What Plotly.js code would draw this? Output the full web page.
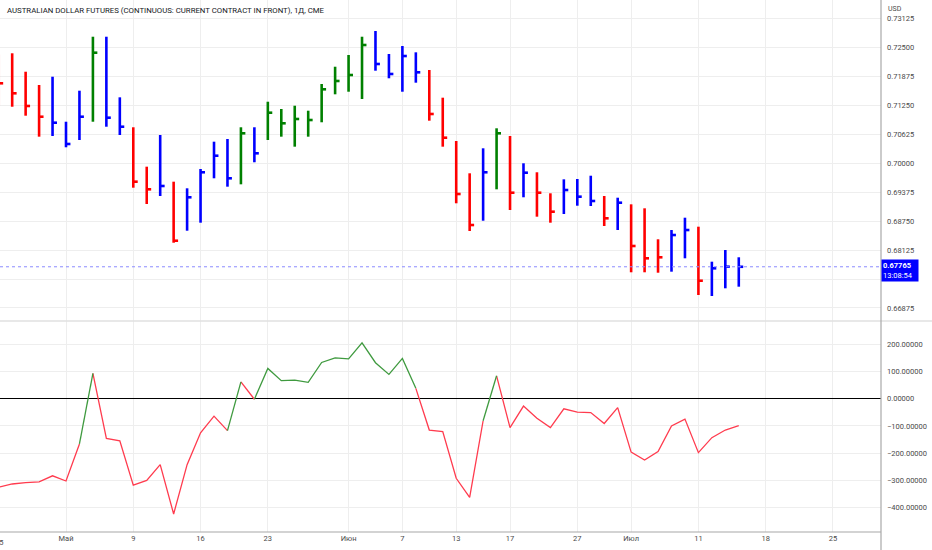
<!DOCTYPE html>
<html>
<head>
<meta charset="utf-8">
<script src="https://cdn.plot.ly/plotly-3.0.1.min.js"></script>
<style>
  html, body { margin: 0; padding: 0; background: #ffffff; }
  #chart { width: 932px; height: 550px; }
</style>
</head>
<body>
<div id="chart"></div>
<script>
//Trading sessions on the time axis (the last ones are still empty)
var sessions = [
  '2022-04-25','2022-04-26','2022-04-27','2022-04-28','2022-04-29',
  '2022-05-02','2022-05-03','2022-05-04','2022-05-05','2022-05-06',
  '2022-05-09','2022-05-10','2022-05-11','2022-05-12','2022-05-13',
  '2022-05-16','2022-05-17','2022-05-18','2022-05-19','2022-05-20',
  '2022-05-23','2022-05-24','2022-05-25','2022-05-26','2022-05-27',
  '2022-05-31','2022-06-01','2022-06-02','2022-06-03',
  '2022-06-06','2022-06-07','2022-06-08','2022-06-09','2022-06-10',
  '2022-06-13','2022-06-14','2022-06-15','2022-06-16','2022-06-17',
  '2022-06-21','2022-06-22','2022-06-23','2022-06-24',
  '2022-06-27','2022-06-28','2022-06-29','2022-06-30','2022-07-01',
  '2022-07-05','2022-07-06','2022-07-07','2022-07-08',
  '2022-07-11','2022-07-12','2022-07-13','2022-07-14','2022-07-15',
  '2022-07-18','2022-07-19','2022-07-20','2022-07-21','2022-07-22',
  '2022-07-25','2022-07-26','2022-07-27','2022-07-28','2022-07-29'
];

//Daily bars (high / low / close), one per session from the start
var high = [0.72350,0.72376,0.71978,0.71691,0.71870,0.70898,0.71568,0.72734,0.72734,0.71425,
            0.70778,0.69927,0.70611,0.69603,0.69460,0.69877,0.70467,0.70525,0.70778,0.70778,
            0.71330,0.71173,0.71244,0.71136,0.71713,0.72086,0.72339,0.72734,0.72857,0.72361,
            0.72533,0.72397,0.72015,0.71417,0.70482,0.69784,0.70324,0.70756,0.70590,0.70000,
            0.69806,0.69352,0.69654,0.69661,0.69732,0.69294,0.69257,0.69114,0.69028,0.68359,
            0.68559,0.68825,0.68631,0.67875,0.68127,0.67970];
var low  = [0.71250,0.71222,0.71028,0.70575,0.70590,0.70346,0.70503,0.70898,0.70790,0.70611,
            0.69473,0.69121,0.69294,0.68285,0.68544,0.68717,0.69676,0.69495,0.69546,0.70022,
            0.70503,0.70575,0.70359,0.70575,0.70886,0.71490,0.71546,0.71389,0.72000,0.71836,
            0.71546,0.71741,0.70920,0.70359,0.69136,0.68538,0.68760,0.69438,0.68991,0.69266,
            0.68847,0.68717,0.68905,0.69084,0.69078,0.68646,0.68559,0.67646,0.67646,0.67637,
            0.67659,0.67948,0.67155,0.67134,0.67300,0.67335];
var close = [0.71728,0.71512,0.71238,0.71006,0.70877,0.70417,0.71006,0.72389,0.70985,0.70790,
             0.69603,0.69438,0.69510,0.68328,0.69266,0.69806,0.70164,0.69676,0.70648,0.70216,
             0.71093,0.70864,0.70957,0.70935,0.71598,0.71778,0.71907,0.72555,0.72145,0.71929,
             0.72317,0.71965,0.71065,0.70553,0.69337,0.68667,0.69806,0.70648,0.69365,0.69797,
             0.69365,0.68955,0.69423,0.69279,0.69186,0.68812,0.69149,0.68214,0.67948,0.67970,
             0.68451,0.68559,0.67464,0.67732,0.67767,0.67765];
//Bar state from the study: 1 = up (green), -1 = down (red), 0 = neutral (blue)
var barState = [-1,-1,-1,-1, 0, 0, 0, 1, 0, 0,
                -1,-1, 0,-1, 0, 0, 0, 0, 1, 0,
                 1, 1, 1, 1, 1, 1, 1, 1, 0, 0,
                 0, 0,-1,-1,-1,-1, 0, 1,-1, 0,
                -1,-1, 0, 0, 0,-1, 0,-1,-1,-1,
                 0, 0,-1, 0, 0, 0];

//Lower pane oscillator (CCI-like)
var cci = [-325,-313,-308,-305,-283,-302,-166,  93,-146,-155,
           -317,-300,-242,-423,-242,-125, -64,-117,  62,  -2,
            111,  66,  68,  60, 133, 150, 146, 205, 132,  89,
            148,  38,-115,-121,-292,-362, -81,  84,-106, -27,
            -72,-106, -37, -49, -51, -91, -33,-196,-225,-194,
           -100, -75,-198,-143,-115, -99];

var lastPrice = 0.67765;
var countdown = '13:08:54';
var title = 'AUSTRALIAN DOLLAR FUTURES (CONTINUOUS: CURRENT CONTRACT IN FRONT), 1Д, CME';

//Time axis labels
var tickDates = ['2022-04-25','2022-05-02','2022-05-09','2022-05-16','2022-05-23','2022-06-01','2022-06-07',
                 '2022-06-13','2022-06-17','2022-06-27','2022-07-01','2022-07-11','2022-07-18','2022-07-25'];
var tickText  = ['25','Май','9','16','23','Июн','7','13','17','27','Июл','11','18','25'];
var priceTicks = [0.66875,0.67500,0.68125,0.68750,0.69375,0.70000,0.70625,0.71250,0.71875,0.72500,0.73125];
var cciTicks = [-400,-300,-200,-100,0,100,200];

var GREEN = '#008000', RED = '#ff0000', BLUE = '#0000ff';
var TEXT = '#4a4a4a';
var FONT = 'Roboto, "Liberation Sans", sans-serif';
var XRANGE = [0.095, 65.57];

function idx(d) { return sessions.indexOf(d); }

//One scatter trace per colour: vertical high-low line plus close tick to the right
function barTrace(state, color) {
    var xs = [], ys = [];
    for (var i = 0; i < close.length; i++) {
        if (barState[i] !== state) continue;
        var x = idx(sessions[i]);
        xs.push(x, x, null, x, x + 0.33, null);
        ys.push(low[i], high[i], null, close[i], close[i], null);
    }
    return { x: xs, y: ys, type: 'scatter', mode: 'lines', xaxis: 'x', yaxis: 'y',
             line: {color: color, width: 2.6}, hoverinfo: 'skip', showlegend: false };
}

//Oscillator line: segment i-1 -> i takes green if value i is above zero, else red
function cciTraces() {
    var g = {x: [], y: []}, r = {x: [], y: []};
    for (var i = 1; i < cci.length; i++) {
        var t = cci[i] > 0 ? g : r;
        var x0 = idx(sessions[i - 1]), x1 = idx(sessions[i]);
        var n = t.x.length;
        if (n > 0 && t.x[n - 1] === x0) {
            t.x.push(x1); t.y.push(cci[i]);
        } else {
            if (n > 0) { t.x.push(null); t.y.push(null); }
            t.x.push(x0, x1); t.y.push(cci[i - 1], cci[i]);
        }
    }
    var base = { type: 'scatter', mode: 'lines', xaxis: 'x', yaxis: 'y2', hoverinfo: 'skip', showlegend: false };
    return [
        Object.assign({}, base, { x: r.x, y: r.y, line: {color: '#ff3b4e', width: 1.3} }),
        Object.assign({}, base, { x: g.x, y: g.y, line: {color: '#3f9a3f', width: 1.3} })
    ];
}

//Ticks inside the visible range go on the axis; the first date sits half off the left edge
var inRange = function (d) { var v = idx(d); return v >= XRANGE[0] && v <= XRANGE[1]; };
var axisDates = tickDates.filter(inRange);
var axisText = tickText.filter(function (t, k) { return inRange(tickDates[k]); });
var edgeAnnotations = tickDates.map(function (d, k) {
    if (inRange(d)) return null;
    return { xref: 'paper', yref: 'paper', x: (idx(d) - XRANGE[0]) / (XRANGE[1] - XRANGE[0]), y: 0,
             xanchor: 'center', yanchor: 'top', yshift: -4, text: tickText[k], showarrow: false,
             font: { family: FONT, size: 7.5, color: TEXT } };
}).filter(function (a) { return a; });

//Price scale labels; the one under the last price badge stays hidden
var priceText = priceTicks.map(function (p) {
    return Math.abs(p - lastPrice) < 0.003 ? '' : p.toFixed(5);
});

var split = (532 - 321) / 532;
var data = [barTrace(-1, RED), barTrace(0, BLUE), barTrace(1, GREEN)].concat(cciTraces());

var layout = {
    width: 932, height: 550,
    margin: { l: 0, r: 51, t: 0, b: 18 },
    paper_bgcolor: '#ffffff', plot_bgcolor: '#ffffff',
    font: { family: FONT, size: 7.5, color: TEXT },
    showlegend: false,
    xaxis: {
        range: XRANGE, anchor: 'y2', showgrid: true, gridcolor: '#eeeeee', gridwidth: 1,
        zeroline: false, showline: false, ticks: '',
        tickmode: 'array', tickvals: axisDates.map(idx), ticktext: axisText,
        tickfont: { size: 7.5, color: TEXT }, fixedrange: true
    },
    yaxis: {
        domain: [split, 1], range: [0.66594, 0.73527], side: 'right',
        showgrid: true, gridcolor: '#eeeeee', zeroline: false, ticks: '',
        tickmode: 'array', tickvals: priceTicks, ticktext: priceText,
        tickfont: { size: 7.5, color: TEXT }, ticklabelstandoff: 5
    },
    yaxis2: {
        domain: [0, split], range: [-489.2, 285.1], side: 'right', anchor: 'x',
        showgrid: true, gridcolor: '#eeeeee', zeroline: true, zerolinecolor: '#000000', zerolinewidth: 1.5,
        ticks: '', tickmode: 'array', tickvals: cciTicks, tickformat: '.5f',
        tickfont: { size: 7.5, color: TEXT }, ticklabelstandoff: 5
    },
    shapes: [
        //current price line
        { type: 'line', xref: 'paper', yref: 'y', x0: 0, x1: 1, y0: lastPrice, y1: lastPrice,
          line: { color: '#8c8cff', width: 1, dash: 'dot' } },
        //pane divider
        { type: 'line', xref: 'paper', yref: 'paper', x0: 0, x1: 932 / 881, y0: split, y1: split,
          line: { color: '#e0e0e0', width: 1.5 } },
        //price scale border
        { type: 'line', xref: 'paper', yref: 'paper', x0: 1, x1: 1, y0: -18 / 532, y1: 1,
          line: { color: '#a8a8a8', width: 1.2 } },
        //time scale border
        { type: 'line', xref: 'paper', yref: 'paper', x0: 0, x1: 1, y0: 0, y1: 0,
          line: { color: '#a8a8a8', width: 1.2 } }
    ],
    annotations: [
        { xref: 'paper', yref: 'paper', x: 0, y: 1, xanchor: 'left', yanchor: 'top', xshift: 5, yshift: -4,
          text: title, showarrow: false, font: { family: FONT, size: 7.8, color: '#131722' } },
        { xref: 'paper', yref: 'paper', x: 1, y: 1, xanchor: 'left', yanchor: 'top', xshift: 5, yshift: -3,
          text: 'USD', showarrow: false, font: { family: FONT, size: 7, color: TEXT } },
        //last price badge
        { xref: 'paper', yref: 'y', x: 1, y: lastPrice, xanchor: 'left', yanchor: 'middle', yshift: -4,
          text: '<b>' + lastPrice.toFixed(5) + '</b><br>' + countdown, showarrow: false, align: 'left',
          bgcolor: '#0000ff', borderpad: 1, width: 34,
          font: { family: FONT, size: 7.5, color: '#ffffff' } }
    ].concat(edgeAnnotations)
};

Plotly.newPlot('chart', data, layout, { staticPlot: true, displayModeBar: false });
</script>
</body>
</html>
